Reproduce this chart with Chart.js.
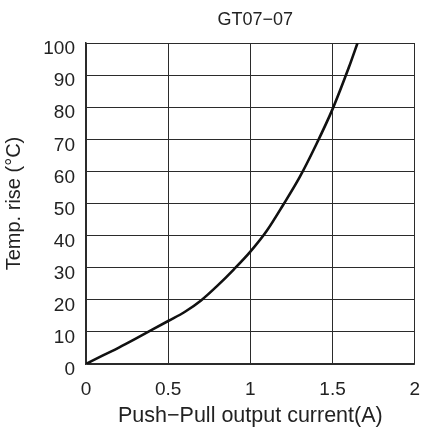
<!DOCTYPE html>
<html>
<head>
<meta charset="utf-8">
<script src="https://cdn.jsdelivr.net/npm/chart.js@4"></script>
<style>
  html, body { margin: 0; padding: 0; background: #fff; }
  #wrap { width: 434px; height: 432px; }
</style>
</head>
<body>
<div id="wrap"><canvas id="c" width="434" height="432"></canvas></div>
<script>
// values
const current = [0, 0.1, 0.2, 0.3, 0.4, 0.5, 0.6, 0.7, 0.8, 0.9, 1.0, 1.1, 1.2, 1.3, 1.4, 1.5, 1.6, 1.652];
const tempRise = [0, 2.6, 5.1, 7.8, 10.6, 13.4, 16.2, 19.8, 24.4, 29.5, 35, 41.5, 49.6, 58.2, 68.3, 79.4, 92.5, 100];
const xTicks = [0, 0.5, 1, 1.5, 2];
const yTicks = [0, 10, 20, 30, 40, 50, 60, 70, 80, 90, 100];
const chartTitle = "GT07\u221207";

const FONT = "'Liberation Sans', Arial, sans-serif";
const GRID = "#2b2b2b";

// title drawn centered over the plot area
const titlePlugin = {
  id: "plotTitle",
  afterDraw(chart) {
    const ctx = chart.ctx, a = chart.chartArea;
    ctx.save();
    ctx.fillStyle = "#222";
    ctx.font = "18px " + FONT;
    ctx.textAlign = "center";
    ctx.textBaseline = "middle";
    ctx.fillText(chartTitle, (a.left + a.right) / 2 + 5, 20);
    ctx.restore();
  }
};

new Chart(document.getElementById("c"), {
  type: "line",
  data: {
    datasets: [{
      data: current.map((x, i) => ({ x: x, y: tempRise[i] })),
      borderColor: "#111",
      borderWidth: 2.6,
      pointRadius: 0,
      cubicInterpolationMode: "monotone",
      fill: false
    }]
  },
  options: {
    responsive: false,
    animation: false,
    layout: { padding: { top: 43, right: 14, left: 0, bottom: 0 } },
    plugins: { legend: { display: false }, tooltip: { enabled: false } },
    scales: {
      x: {
        type: "linear",
        min: 0, max: 2,
        afterBuildTicks: s => { s.ticks = xTicks.map(v => ({ value: v })); },
        afterFit: s => { s.height = 68; },
        grid: { color: GRID, lineWidth: 1, drawTicks: false },
        border: { color: GRID, width: 1.5 },
        ticks: {
          color: "#222", font: { family: FONT, size: 19 }, padding: 14, maxRotation: 0,
          callback: v => String(v)
        },
        title: {
          display: true,
          text: "Push\u2212Pull output current(A)",
          color: "#222",
          font: { family: FONT, size: 21.5 },
          padding: { top: 0, bottom: 3 }
        }
      },
      y: {
        type: "linear",
        min: 0, max: 100,
        afterBuildTicks: s => { s.ticks = yTicks.map(v => ({ value: v })); },
        afterFit: s => { s.width = 86; },
        grid: { color: GRID, lineWidth: 1, drawTicks: false },
        border: { color: GRID, width: 1.5 },
        ticks: { color: "#222", font: { family: FONT, size: 19 }, padding: 11, labelOffset: 6 },
        title: {
          display: true,
          text: "Temp. rise (\u00b0C)",
          color: "#222",
          font: { family: FONT, size: 20 },
          padding: { top: 2, bottom: 0 }
        }
      }
    }
  },
  plugins: [titlePlugin]
});
</script>
</body>
</html>
